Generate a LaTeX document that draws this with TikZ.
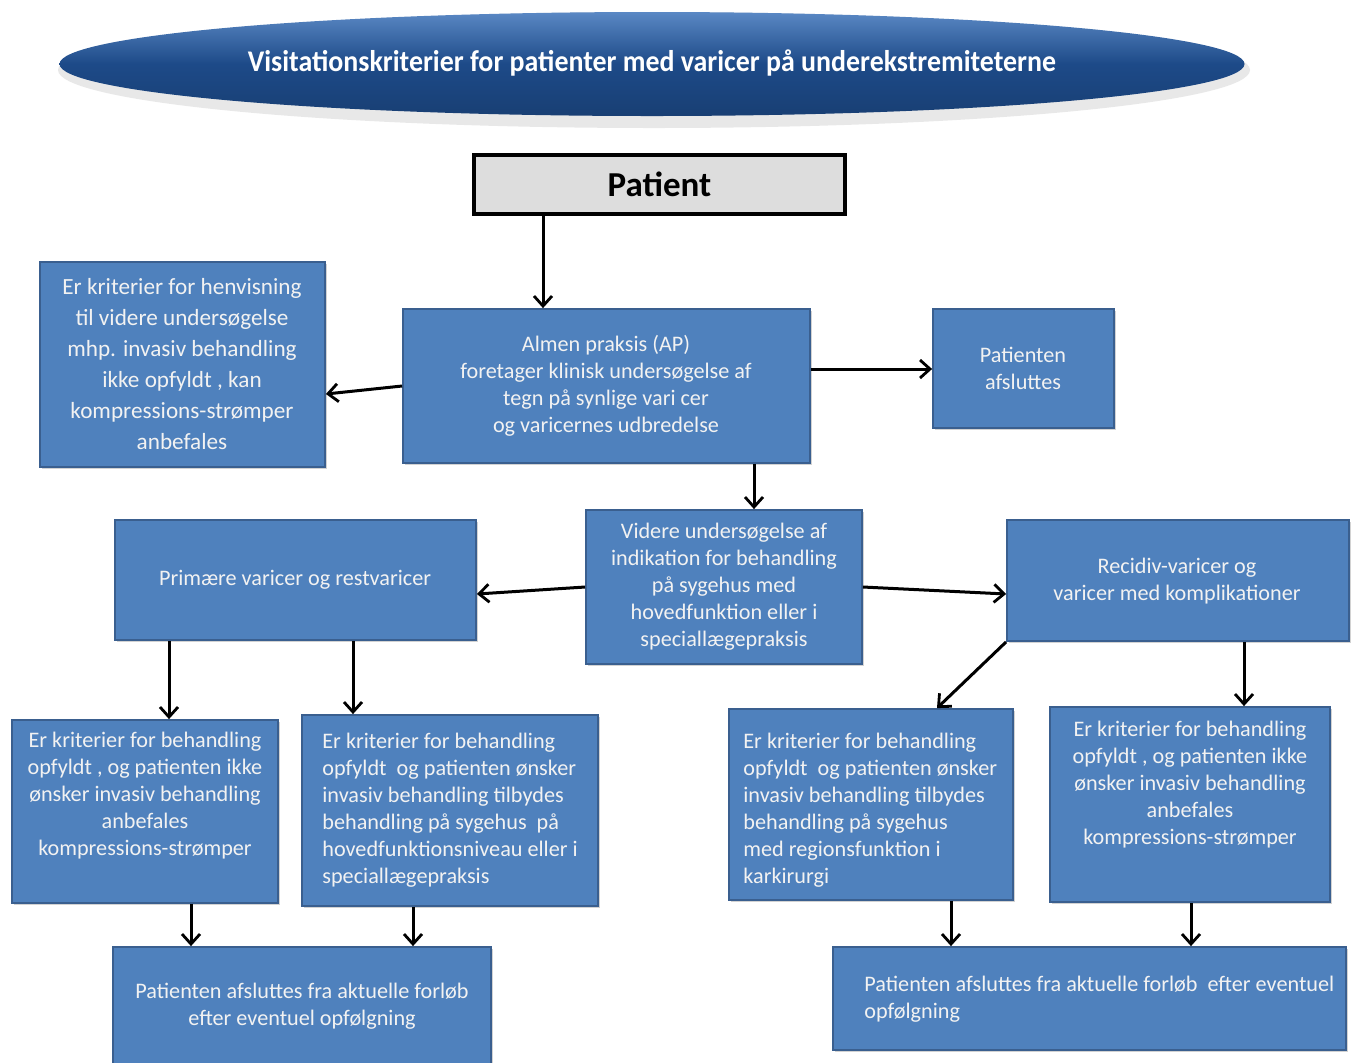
\documentclass[tikz,border=0pt]{standalone}
\usepackage{fontspec}
\setmainfont{Carlito}
\usetikzlibrary{arrows.meta,shapes.geometric,shadows}
\definecolor{boxblue}{HTML}{4F81BD}
\definecolor{boxedge}{HTML}{3A5F8F}
\definecolor{titledark}{HTML}{1D4A88}
\definecolor{titlelight}{HTML}{5A88C4}
\definecolor{patgray}{HTML}{DDDDDD}
\definecolor{txtwhite}{HTML}{F2F2F2}
\newcommand{\mybox}[5]{%
  \node[bluebox, minimum width={(#4-#2)*0.5pt}, minimum height={(#5-#3)*0.5pt}] (#1) at ({(#2+#4)/2},{(#3+#5)/2}) {};}
\begin{document}
\begin{tikzpicture}[x=0.5pt,y=-0.5pt,
  bluebox/.style={draw=boxedge, line width=0.9pt, fill=boxblue, rectangle, inner sep=0pt,
    drop shadow={shadow xshift=0.8pt, shadow yshift=-0.8pt, opacity=0.35}},
  txt/.style={text=txtwhite, font=\fontsize{11.1}{13.5}\selectfont, align=center, inner sep=0pt},
  arr/.style={-{Straight Barb[length=5pt,width=9pt,line width=1.4pt]}, line width=1.5pt, black}]
\useasboundingbox[fill=white] (0,0) rectangle (1355,1062);

% title
\node[ellipse, minimum width=596pt, minimum height=58pt, inner sep=0pt, fill=gray!35, opacity=0.5] (titleshadow) at (654,70) {};
\node[ellipse, minimum width=592.5pt, minimum height=52pt, inner sep=0pt,
  top color=titlelight, bottom color=titledark!85!black, middle color=titledark] (title) at (652,64) {};
\node[text=white, font=\fontsize{15}{17}\selectfont\bfseries, inner sep=0pt] (titletxt) at (652,63)
  {\scalebox{0.93}[1]{Visitationskriterier for patienter med varicer på underekstremiteterne}};

% patient
\node[draw=black, line width=1.6pt, fill=patgray, minimum width=185.5pt, minimum height=29.5pt, inner sep=0pt,
  font=\fontsize{17.5}{20}\selectfont\bfseries] (pat) at (659.5,184.5) {Patient};

% boxes
\mybox{ap}{403}{309}{810}{463}
\mybox{lb}{40}{262}{325}{467}
\mybox{afs}{933}{309}{1114}{428}
\mybox{vid}{586}{510}{862}{664}
\mybox{prim}{115}{520}{476}{640}
\mybox{rec}{1007}{520}{1349}{641}
\mybox{bla}{12}{720}{278}{903}
\mybox{blb}{302}{715}{598}{906}
\mybox{bra}{729}{709}{1013}{900}
\mybox{brb}{1050}{707}{1330}{902}
\mybox{fl}{113}{947}{491}{1068}
\mybox{fr}{833}{947}{1346}{1050}

% texts
\node[txt] (t-ap) at (606,386) {Almen praksis (AP)\\foretager klinisk undersøgelse af\\tegn på synlige vari cer\\og varicernes udbredelse};
\node[txt, font=\fontsize{11.6}{15.5}\selectfont] (t-lb) at (182,364) {Er kriterier for henvisning\\til videre undersøgelse\\mhp. invasiv behandling\\ikke opfyldt , kan\\kompressions-strømper\\anbefales};
\node[txt] (t-afs) at (1023,368) {Patienten\\afsluttes};
\node[txt] (t-vid) at (724,587) {Videre undersøgelse af\\indikation for behandling\\på sygehus med\\hovedfunktion eller i\\speciallægepraksis};
\node[txt] (t-prim) at (295,580) {Primære varicer og restvaricer};
\node[txt] (t-rec) at (1177,581) {Recidiv-varicer og\\varicer med komplikationer};
\node[txt] (t-bla) at (145,796) {Er kriterier for behandling\\opfyldt , og patienten ikke\\ønsker invasiv behandling\\anbefales\\kompressions-strømper};
\node[txt, align=left, anchor=west] (t-blb) at (322,810) {Er kriterier for behandling\\opfyldt\ \ og patienten ønsker\\invasiv behandling tilbydes\\behandling på sygehus\ \ på\\hovedfunktionsniveau eller i\\speciallægepraksis};
\node[txt, align=left, anchor=west] (t-bra) at (743,810) {Er kriterier for behandling\\opfyldt\ \ og patienten ønsker\\invasiv behandling tilbydes\\behandling på sygehus\\med regionsfunktion i\\karkirurgi};
\node[txt] (t-brb) at (1190,785) {Er kriterier for behandling\\opfyldt , og patienten ikke\\ønsker invasiv behandling\\anbefales\\kompressions-strømper};
\node[txt] (t-fl) at (302,1006) {Patienten afsluttes fra aktuelle forløb\\efter eventuel opfølgning};
\node[txt, align=left, anchor=west] (t-fr) at (864,999) {Patienten afsluttes fra aktuelle forløb\ \ efter eventuel\\opfølgning};

% connectors
\draw[arr] (pat.south -| 543,0) -- (ap.north -| 543,0);
\draw[arr] (ap.west) -- (lb.east |- 0,394);
\draw[arr] (ap.east |- 0,369) -- (afs.west |- 0,369);
\draw[arr] (ap.south -| 754,0) -- (vid.north -| 754,0);
\draw[arr] (vid.west) -- (prim.east |- 0,594);
\draw[arr] (vid.east) -- (rec.west |- 0,594);
\draw[arr] (prim.south -| 169,0) -- (bla.north -| 169,0);
\draw[arr] (prim.south -| 353,0) -- (blb.north -| 353,0);
\draw[arr] (rec.south west) -- (bra.north -| 937,0);
\draw[arr] (rec.south -| 1244,0) -- (brb.north -| 1244,0);
\draw[arr] (bla.south -| 191,0) -- (fl.north -| 191,0);
\draw[arr] (blb.south -| 413,0) -- (fl.north -| 413,0);
\draw[arr] (bra.south -| 951,0) -- (fr.north -| 951,0);
\draw[arr] (brb.south -| 1191,0) -- (fr.north -| 1191,0);
\end{tikzpicture}
\end{document}
